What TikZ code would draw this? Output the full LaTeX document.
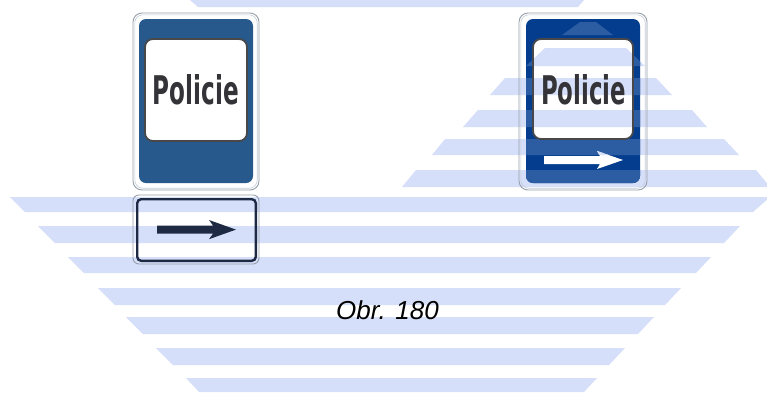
\documentclass[tikz,border=0pt]{standalone}
\usepackage{graphicx}
\usepackage{fontspec}
\newfontfamily\signfont{DejaVu Sans}
\newfontfamily\capfont{Liberation Sans}
\definecolor{wm}{RGB}{214,223,249}
\definecolor{blueL}{RGB}{40,89,140}
\definecolor{blueR}{RGB}{4,60,142}
\definecolor{blueRs}{RGB}{44,92,162}
\definecolor{panelrim}{RGB}{72,72,74}
\definecolor{signtext}{RGB}{52,52,56}
\definecolor{plateink}{RGB}{30,42,68}
\definecolor{edgeA}{RGB}{150,160,172}
\definecolor{edgeB}{RGB}{196,204,214}
\newcommand\wmband[6]{(#3,#1) -- (#4,#1) -- (#6,#2) -- (#5,#2) -- cycle }
\newcommand\wmstripes{%
 \wmband{0}{7}{190}{584}{198}{578}
 \wmband{22}{35}{580}{596}{562}{613}
 \wmband{48}{66}{545}{626}{526}{645}
 \wmband{78}{95}{505}{656}{490}{672}
 \wmband{110}{127}{478}{692}{463}{707}
 \wmband{139}{155}{445}{724}{432}{739}
 \wmband{170}{187}{416}{756}{402}{770}
 \wmband{197}{212}{10}{770}{25}{753}
 \wmband{226}{243}{38}{740}{55}{724}
 \wmband{257}{273}{68}{711}{84}{696}
 \wmband{288}{305}{98}{681}{115}{665}
 \wmband{317}{334}{126}{654}{143}{638}
 \wmband{348}{365}{156}{625}{173}{609}
 \wmband{378}{392}{186}{597}{199}{584}}
\newcommand\arrowR{(544,156) -- (600,156) -- (597,151) -- (623,160) -- (597,169) -- (600,164) -- (544,164) -- cycle}
\tikzset{
  outeredge/.style={draw=edgeA, line width=0.9pt, rounded corners=9pt},
  inneredge/.style={draw=edgeB, line width=0.6pt, rounded corners=8pt},
  panel/.style={rounded corners=8pt},
  panelrimline/.style={draw=panelrim, line width=1.8pt, rounded corners=8pt},
  signword/.style={inner sep=0pt, anchor=base, text=signtext},
}
\begin{document}
\begin{tikzpicture}[x=1pt,y=-1pt]
\useasboundingbox (0,0) rectangle (767,392);
\fill[white] (0,0) rectangle (767,392);
% watermark stripes
\fill[wm] \wmstripes;

% ---------- left sign ----------
\draw[outeredge] (133,13) rectangle (259,190);
\draw[inneredge] (134.8,14.8) rectangle (257.2,188.2);
\fill[blueL, rounded corners=7pt] (139,19) rectangle (253,183);
\fill[white, panel] (145,39) rectangle (247,141);
\draw[panelrimline] (145,39) rectangle (247,141);
\node[signword] (txtL) at (196,104) {\resizebox{86pt}{30pt}{\signfont\bfseries Policie}};

% ---------- left additional plate ----------
\draw[outeredge, rounded corners=6pt] (133,195) rectangle (259,264);
\draw[draw=plateink, line width=2.4pt, rounded corners=4pt] (137.2,199.2) rectangle (255.8,260.8);
\fill[plateink] (157,225.5) -- (213,225.5) -- (209,220) -- (236,229.6) -- (209,239.2) -- (213,233.7) -- (157,233.7) -- cycle;

% ---------- right sign ----------
\draw[outeredge] (519,13) rectangle (647,190);
\draw[inneredge] (520.8,14.8) rectangle (645.2,188.2);
\fill[blueR, rounded corners=7pt] (526,19) rectangle (640,183);
\begin{scope}
  \clip[rounded corners=7pt] (526,19) rectangle (640,183);
  \fill[blueRs] \wmstripes;
\end{scope}
\fill[white, panel] (533,39) rectangle (633,139);
\begin{scope}
  \clip[panel] (533,39) rectangle (633,139);
  \fill[wm] \wmstripes;
\end{scope}
\draw[panelrimline] (533,39) rectangle (633,139);
\node[signword] (txtR) at (583.5,104) {\resizebox{85pt}{30pt}{\signfont\bfseries Policie}};
\fill[white] \arrowR;
\begin{scope}
  \clip \arrowR;
  \fill[wm] \wmstripes;
\end{scope}

% ---------- caption ----------
\node[inner sep=0pt, anchor=base] (cap) at (387.5,319) {\capfont\itshape\fontsize{26}{30}\selectfont Obr. 180};
\end{tikzpicture}
\end{document}
